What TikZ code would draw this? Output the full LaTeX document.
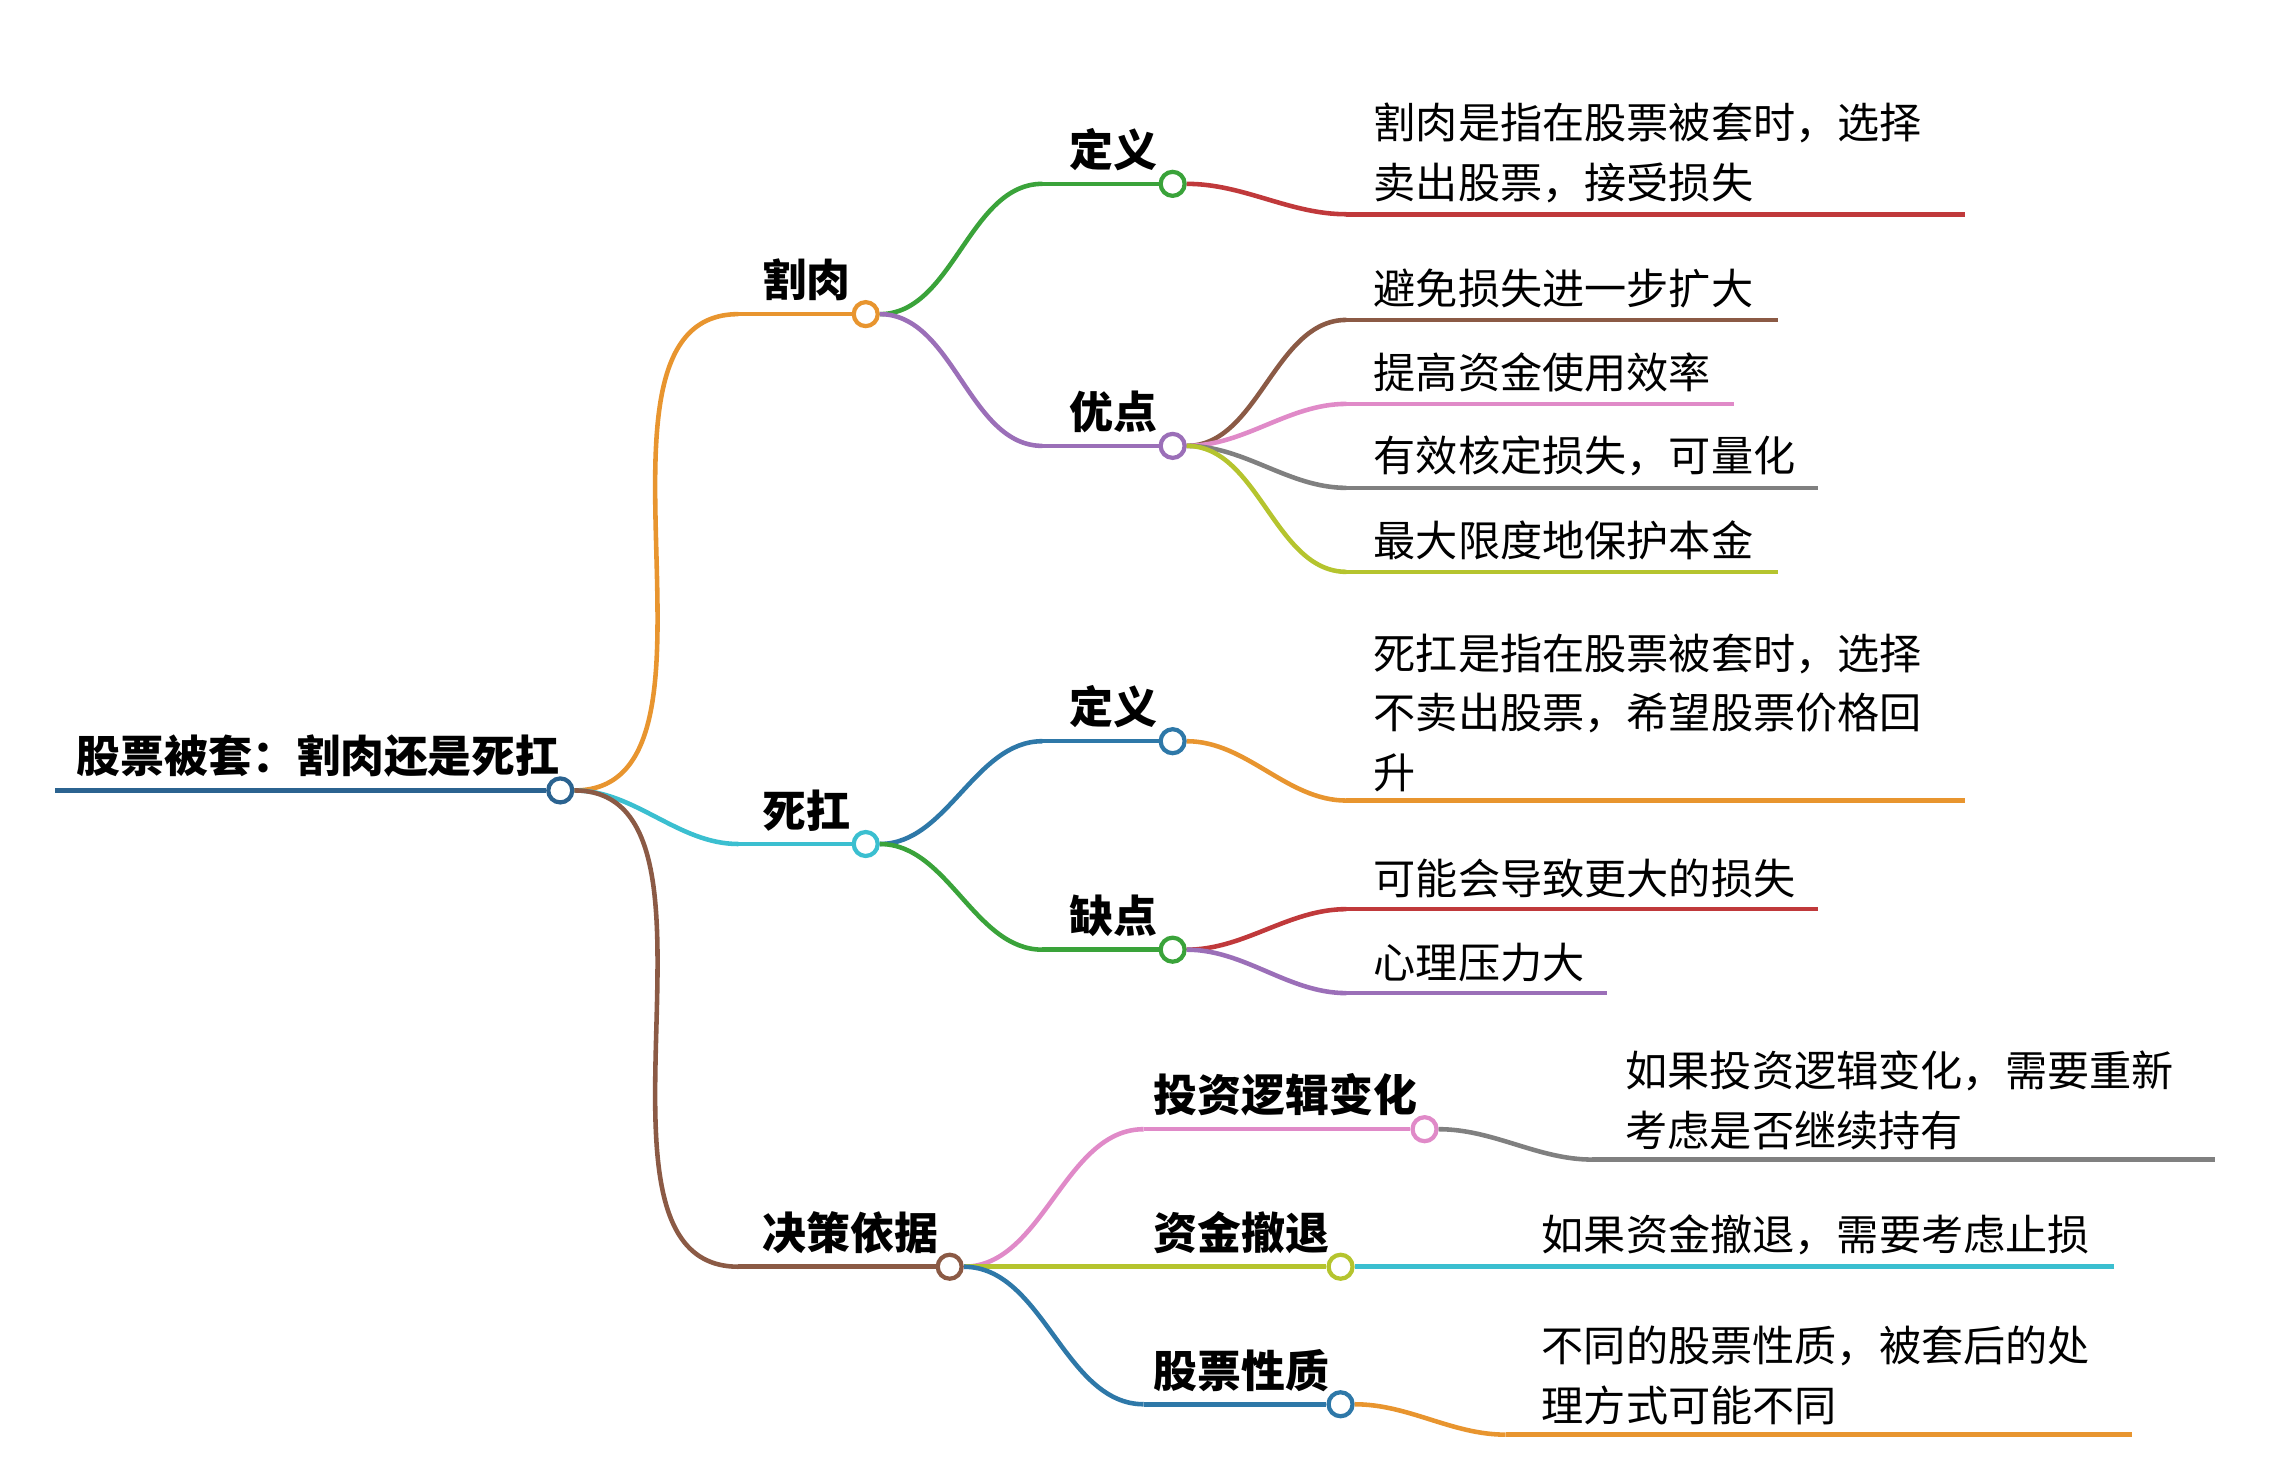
\documentclass[tikz,border=0pt]{standalone}
\usepackage{fontspec}
\setmainfont{Noto Sans CJK SC}
\usetikzlibrary{positioning}
\definecolor{cRoot}{HTML}{2B6390}
\definecolor{cOrange}{HTML}{E8952F}
\definecolor{cCyan}{HTML}{3BBFD0}
\definecolor{cBrown}{HTML}{8B5A45}
\definecolor{cGreen}{HTML}{3AA33A}
\definecolor{cPurple}{HTML}{9B6FB8}
\definecolor{cRed}{HTML}{C0393B}
\definecolor{cPink}{HTML}{E08AC8}
\definecolor{cGray}{HTML}{808080}
\definecolor{cOlive}{HTML}{B5C42E}
\definecolor{cBlue}{HTML}{2E78A8}

\begin{document}
\begin{tikzpicture}[
    x=0.01448cm, y=-0.01448cm,
    knob/.style={circle, draw=#1, fill=white, line width=1.2pt, minimum size=0.24cm, inner sep=0pt},
    link/.style={draw=#1, line width=1.3pt, out=0, in=180, looseness=0.9},
    bar/.style={draw=#1, line width=1.3pt},
    topic/.style={anchor=south west, inner sep=1pt, font=\fontsize{12.5}{15}\selectfont\bfseries},
    leaf/.style={anchor=south west, inner sep=1pt, align=left, font=\fontsize{12}{17}\selectfont}
]
    \useasboundingbox (0,0) rectangle (1568,1022);

    % root
    \coordinate (r0) at (38,546);
    \node[knob=cRoot] (root) at (387,546) {};
    \draw[bar=cRoot] (r0) -- (root);
    \node[topic] (rootT) at (50,540) {股票被套：割肉还是死扛};

    % level 1
    \coordinate (g0) at (510,217);
    \node[knob=cOrange] (gerou) at (598,217) {};
    \node[topic] at (524,211) {割肉};
    \coordinate (s0) at (510,583);
    \node[knob=cCyan] (sikang) at (598,583) {};
    \node[topic] at (524,577) {死扛};
    \coordinate (j0) at (510,875);
    \node[knob=cBrown] (jue) at (656,875) {};
    \node[topic] at (524,869) {决策依据};
    \draw[link=cOrange] (root) to (g0); \draw[bar=cOrange] (g0) -- (gerou);
    \draw[link=cCyan] (root) to (s0); \draw[bar=cCyan] (s0) -- (sikang);
    \draw[link=cBrown] (root) to (j0); \draw[bar=cBrown] (j0) -- (jue);

    % 割肉
    \coordinate (gd0) at (720,127);
    \node[knob=cGreen] (gdef) at (810,127) {};
    \node[topic] at (736,121) {定义};
    \coordinate (gy0) at (720,308);
    \node[knob=cPurple] (gyou) at (810,308) {};
    \node[topic] at (736,302) {优点};
    \draw[link=cGreen] (gerou) to (gd0); \draw[bar=cGreen] (gd0) -- (gdef);
    \draw[link=cPurple] (gerou) to (gy0); \draw[bar=cPurple] (gy0) -- (gyou);

    \coordinate (l1a) at (930,148); \coordinate (l1b) at (1357,148);
    \draw[link=cRed] (gdef) to (l1a); \draw[bar=cRed] (l1a) -- (l1b);
    \node[leaf] at (946,143) {割肉是指在股票被套时，选择\\卖出股票，接受损失};

    \coordinate (l2a) at (930,221); \coordinate (l2b) at (1228,221);
    \coordinate (l3a) at (930,279); \coordinate (l3b) at (1198,279);
    \coordinate (l4a) at (930,337); \coordinate (l4b) at (1256,337);
    \coordinate (l5a) at (930,395); \coordinate (l5b) at (1228,395);
    \draw[link=cBrown] (gyou) to (l2a); \draw[bar=cBrown] (l2a) -- (l2b);
    \draw[link=cPink] (gyou) to (l3a); \draw[bar=cPink] (l3a) -- (l3b);
    \draw[link=cGray] (gyou) to (l4a); \draw[bar=cGray] (l4a) -- (l4b);
    \draw[link=cOlive] (gyou) to (l5a); \draw[bar=cOlive] (l5a) -- (l5b);
    \node[leaf] at (946,216) {避免损失进一步扩大};
    \node[leaf] at (946,274) {提高资金使用效率};
    \node[leaf] at (946,332) {有效核定损失，可量化};
    \node[leaf] at (946,390) {最大限度地保护本金};

    % 死扛
    \coordinate (sd0) at (720,512);
    \node[knob=cBlue] (sdef) at (810,512) {};
    \node[topic] at (736,506) {定义};
    \coordinate (sq0) at (720,656);
    \node[knob=cGreen] (sque) at (810,656) {};
    \node[topic] at (736,650) {缺点};
    \draw[link=cBlue] (sikang) to (sd0); \draw[bar=cBlue] (sd0) -- (sdef);
    \draw[link=cGreen] (sikang) to (sq0); \draw[bar=cGreen] (sq0) -- (sque);

    \coordinate (l6a) at (930,553); \coordinate (l6b) at (1357,553);
    \draw[link=cOrange] (sdef) to (l6a); \draw[bar=cOrange] (l6a) -- (l6b);
    \node[leaf] at (946,550) {死扛是指在股票被套时，选择\\不卖出股票，希望股票价格回\\升};

    \coordinate (l7a) at (930,628); \coordinate (l7b) at (1256,628);
    \coordinate (l8a) at (930,686); \coordinate (l8b) at (1110,686);
    \draw[link=cRed] (sque) to (l7a); \draw[bar=cRed] (l7a) -- (l7b);
    \draw[link=cPurple] (sque) to (l8a); \draw[bar=cPurple] (l8a) -- (l8b);
    \node[leaf] at (946,623) {可能会导致更大的损失};
    \node[leaf] at (946,681) {心理压力大};

    % 决策依据
    \coordinate (jt0) at (790,780);
    \node[knob=cPink] (jtou) at (984,780) {};
    \node[topic] at (794,774) {投资逻辑变化};
    \coordinate (jz0) at (790,875);
    \node[knob=cOlive] (jzi) at (926,875) {};
    \node[topic] at (794,869) {资金撤退};
    \coordinate (jx0) at (790,970);
    \node[knob=cBlue] (jxing) at (926,970) {};
    \node[topic] at (794,964) {股票性质};
    \draw[link=cPink] (jue) to (jt0); \draw[bar=cPink] (jt0) -- (jtou);
    \draw[link=cOlive] (jue) to (jz0); \draw[bar=cOlive] (jz0) -- (jzi);
    \draw[link=cBlue] (jue) to (jx0); \draw[bar=cBlue] (jx0) -- (jxing);

    \coordinate (l9a) at (1100,801); \coordinate (l9b) at (1530,801);
    \draw[link=cGray] (jtou) to (l9a); \draw[bar=cGray] (l9a) -- (l9b);
    \node[leaf] at (1120,797) {如果投资逻辑变化，需要重新\\考虑是否继续持有};

    \coordinate (l10b) at (1460,875);
    \draw[bar=cCyan] (jzi) -- (l10b);
    \node[leaf] at (1062,870) {如果资金撤退，需要考虑止损};

    \coordinate (l11a) at (1040,991); \coordinate (l11b) at (1473,991);
    \draw[link=cOrange] (jxing) to (l11a); \draw[bar=cOrange] (l11a) -- (l11b);
    \node[leaf] at (1062,987) {不同的股票性质，被套后的处\\理方式可能不同};
\end{tikzpicture}
\end{document}
